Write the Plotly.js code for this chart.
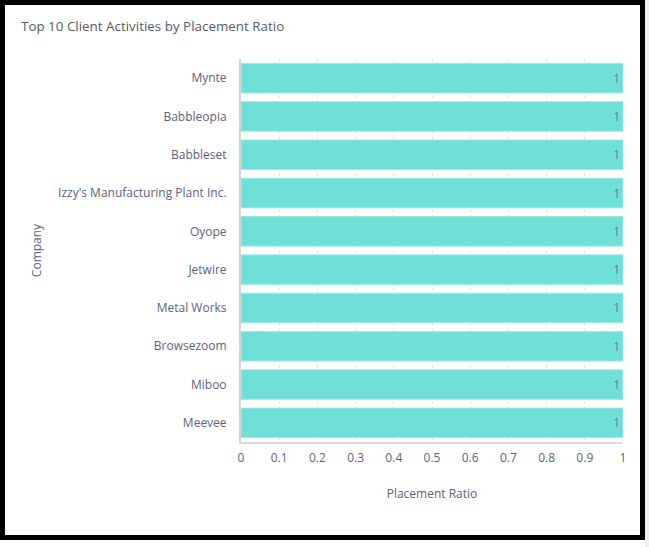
<!DOCTYPE html>
<html>
<head>
<meta charset="utf-8">
<script src="https://cdn.plot.ly/plotly-3.0.1.min.js"></script>
<style>
  html, body { margin: 0; padding: 0; background: #ffffff; }
  #wrap { position: relative; width: 649px; height: 547px; overflow: hidden; }
  #chart { position: absolute; left: 0; top: 0; width: 649px; height: 547px; }
  #frame { position: absolute; left: 0; top: 0; width: 635px; height: 530px;
           border: 5px solid #000; pointer-events: none; }
  #edge { position: absolute; left: 645px; top: 0; width: 4px; height: 547px; background: #f0f0f0; }
</style>
</head>
<body>
<div id="wrap">
  <div id="chart"></div>
  <div id="frame"></div>
  <div id="edge"></div>
</div>
<script>
// Companies listed from top to bottom, with their placement ratios
const companies = [
  "Mynte",
  "Babbleopia",
  "Babbleset",
  "Izzy's Manufacturing Plant Inc.",
  "Oyope",
  "Jetwire",
  "Metal Works",
  "Browsezoom",
  "Miboo",
  "Meevee"
];
const placementRatio = [1, 1, 1, 1, 1, 1, 1, 1, 1, 1];
const xTickValues = [0, 0.1, 0.2, 0.3, 0.4, 0.5, 0.6, 0.7, 0.8, 0.9, 1];
const xTickLabels = ["0", "0.1", "0.2", "0.3", "0.4", "0.5", "0.6", "0.7", "0.8", "0.9", "1"];

const labelColor = "#5f6178";

const trace = {
  type: "bar",
  orientation: "h",
  y: companies,
  x: placementRatio,
  marker: { color: "#6fe0d7", line: { color: "#9aeae3", width: 1 } },
  text: placementRatio.map(String),
  textposition: "inside",
  insidetextanchor: "end",
  textfont: { family: "Open Sans", size: 12, color: "#5a7d9c" },
  hoverinfo: "x+y"
};

const layout = {
  width: 649,
  height: 547,
  paper_bgcolor: "#ffffff",
  plot_bgcolor: "#ffffff",
  margin: { l: 241, r: 26, t: 59, b: 105 },
  showlegend: false,
  bargap: 0.23,
  font: { family: "Open Sans", size: 12, color: labelColor },
  title: {
    text: "Top 10 Client Activities by Placement Ratio",
    font: { family: "Open Sans", size: 13.4, color: "#5a5a66" },
    xref: "container", yref: "container",
    x: 21 / 649, xanchor: "left",
    y: 1 - 26 / 547, yanchor: "middle"
  },
  xaxis: {
    range: [0, 1],
    tickvals: xTickValues,
    ticktext: xTickLabels,
    showgrid: true,
    gridcolor: "#e3e3e3",
    griddash: "dot",
    gridwidth: 1,
    zeroline: false,
    showline: true,
    linecolor: "#d9d9d9",
    linewidth: 2,
    ticks: "outside",
    ticklen: 4,
    tickcolor: "rgba(0,0,0,0)",
    tickfont: { family: "Open Sans", size: 12, color: labelColor },
    title: { text: "Placement Ratio", standoff: 24,
             font: { family: "Open Sans", size: 12, color: labelColor } },
    fixedrange: true
  },
  yaxis: {
    autorange: "reversed",
    showgrid: false,
    zeroline: false,
    showline: true,
    linecolor: "#d4d4d4",
    linewidth: 2,
    ticks: "outside",
    ticklen: 10,
    tickcolor: "rgba(0,0,0,0)",
    tickfont: { family: "Open Sans", size: 12, color: labelColor },
    title: { text: "Company", standoff: 14,
             font: { family: "Open Sans", size: 12, color: labelColor } },
    fixedrange: true
  }
};

Plotly.newPlot("chart", [trace], layout, { displayModeBar: false, staticPlot: true });
</script>
</body>
</html>
